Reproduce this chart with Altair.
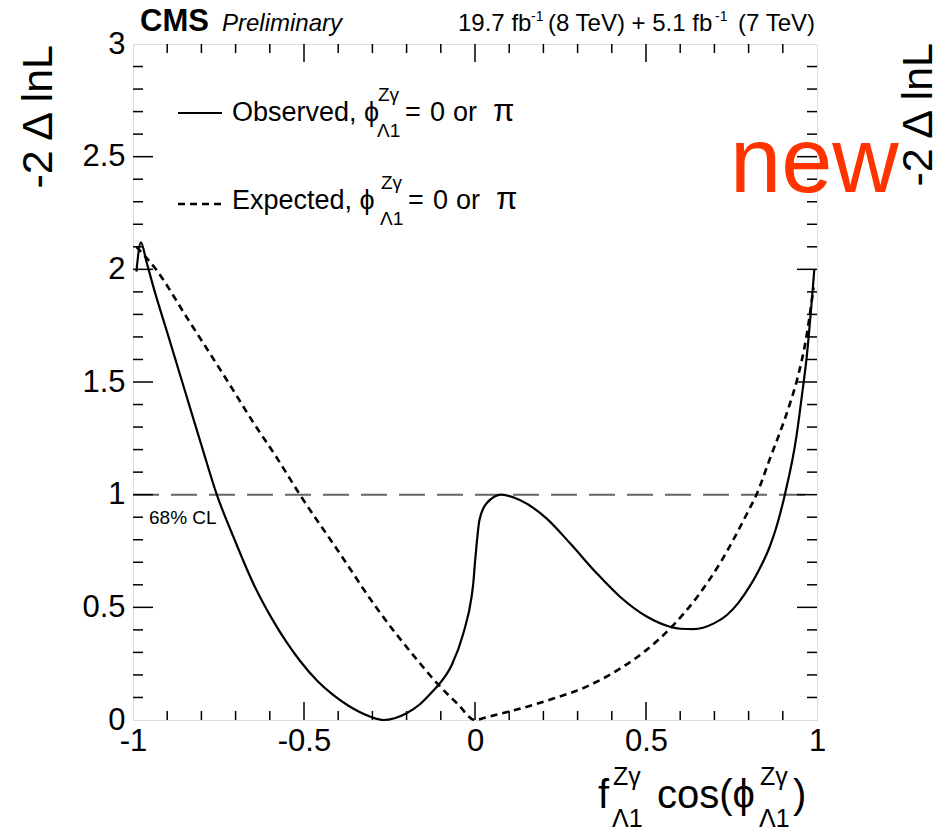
import altair as alt
import pandas as pd

# ---------------- data ----------------
obs_x = [-0.99, -0.977, -0.96, -0.94, -0.90, -0.85, -0.80, -0.755, -0.707, -0.648,
         -0.59, -0.55, -0.512, -0.46, -0.414, -0.37, -0.336, -0.30, -0.268, -0.235,
         -0.2, -0.161, -0.122, -0.107, -0.068, -0.034, -0.01, -0.005, 0.0, 0.005,
         0.013, 0.034, 0.078, 0.131, 0.209, 0.278, 0.356, 0.424, 0.502, 0.570, 0.60,
         0.638, 0.70, 0.736, 0.77, 0.804, 0.83, 0.862, 0.88, 0.906, 0.94, 0.955,
         0.97, 0.992]
obs_y = [1.99, 2.12, 2.03, 1.92, 1.72, 1.47, 1.22, 1.0, 0.815, 0.605,
         0.44, 0.343, 0.263, 0.172, 0.11, 0.063, 0.034, 0.011, 0.0, 0.008,
         0.03, 0.07, 0.13, 0.155, 0.244, 0.385, 0.547, 0.607, 0.70, 0.784,
         0.888, 0.962, 1.0, 0.976, 0.895, 0.784, 0.651, 0.547, 0.459, 0.414, 0.405,
         0.403, 0.43, 0.465, 0.52, 0.595, 0.665, 0.77, 0.85, 1.0, 1.26, 1.43,
         1.613, 1.997]

exp_x = [-0.99, -0.933, -0.84, -0.722, -0.648, -0.58, -0.512, -0.4, -0.289, -0.171,
         -0.112, -0.05, 0.0, 0.034, 0.08, 0.131, 0.229, 0.326, 0.424, 0.5, 0.58,
         0.65, 0.72, 0.8, 0.823, 0.86, 0.92, 0.94, 0.97, 0.99]
exp_y = [2.10, 2.0, 1.78, 1.5, 1.32, 1.165, 1.0, 0.75, 0.5, 0.27,
         0.165, 0.07, 0.0, 0.012, 0.03, 0.05, 0.095, 0.148, 0.228, 0.309, 0.421,
         0.547, 0.705, 0.93, 1.0, 1.15, 1.40, 1.50, 1.71, 1.92]

cl_level = [1.0]

x_major = [-0.5, 0.0, 0.5]
x_minor = [-0.9, -0.8, -0.7, -0.6, -0.4, -0.3, -0.2, -0.1,
           0.1, 0.2, 0.3, 0.4, 0.6, 0.7, 0.8, 0.9]
y_major = [0.5, 1.0, 1.5, 2.0, 2.5]
y_minor = [0.1, 0.2, 0.3, 0.4, 0.6, 0.7, 0.8, 0.9, 1.1, 1.2, 1.3, 1.4,
           1.6, 1.7, 1.8, 1.9, 2.1, 2.2, 2.3, 2.4, 2.6, 2.7, 2.8, 2.9]
x_labels = [-1, -0.5, 0, 0.5, 1]
y_labels = [0, 0.5, 1, 1.5, 2, 2.5, 3]

# ---------------- layout ----------------
L, T = 133, 44
W, H = 684, 676
FONT = "Liberation Sans"
PHI = "\u03d5"

xs = alt.Scale(domain=[-1, 1], nice=False, zero=False)
ys = alt.Scale(domain=[0, 3], nice=False, zero=False)

obs = pd.DataFrame({"x": obs_x, "y": obs_y})
exp = pd.DataFrame({"x": exp_x, "y": exp_y})
one = pd.DataFrame({"a": [0]})

base_axes = alt.Chart(obs).mark_point(opacity=0).encode(
    x=alt.X("x:Q", scale=xs, axis=alt.Axis(
        values=x_labels, labelExpr="'' + datum.value", title=None,
        ticks=False, domain=False, grid=False, labelFontSize=31, labelFont=FONT,
        labelColor="black", labelPadding=6, labelFlush=False, labelOverlap=False)),
    y=alt.Y("y:Q", scale=ys, axis=alt.Axis(
        values=y_labels, labelExpr="'' + datum.value", title=None,
        ticks=False, domain=False, grid=False, labelFontSize=31, labelFont=FONT,
        labelColor="black", labelPadding=8, labelFlush=False, labelOverlap=False)),
)

obs_line = alt.Chart(obs).mark_line(color="black", strokeWidth=2.2, interpolate="monotone").encode(
    x=alt.X("x:Q", scale=xs), y=alt.Y("y:Q", scale=ys))
exp_line = alt.Chart(exp).mark_line(color="black", strokeWidth=2.6, strokeDash=[7, 5],
                                    interpolate="monotone").encode(
    x=alt.X("x:Q", scale=xs), y=alt.Y("y:Q", scale=ys))

cl_rule = alt.Chart(pd.DataFrame({"y": cl_level})).mark_rule(
    color="#666666", strokeWidth=2, strokeDash=[26, 12]).encode(
    y=alt.Y("y:Q", scale=ys), x=alt.value(0), x2=alt.value(W))


def xticks(vals, length):
    d = pd.DataFrame({"v": vals})
    bot = alt.Chart(d).mark_rule(color="black", strokeWidth=1.5).encode(
        x=alt.X("v:Q", scale=xs), y=alt.value(H), y2=alt.value(H - length))
    top = alt.Chart(d).mark_rule(color="black", strokeWidth=1.5).encode(
        x=alt.X("v:Q", scale=xs), y=alt.value(0), y2=alt.value(length))
    return [bot, top]


def yticks(vals, length):
    d = pd.DataFrame({"v": vals})
    lef = alt.Chart(d).mark_rule(color="black", strokeWidth=1.5).encode(
        y=alt.Y("v:Q", scale=ys), x=alt.value(0), x2=alt.value(length))
    rig = alt.Chart(d).mark_rule(color="black", strokeWidth=1.5).encode(
        y=alt.Y("v:Q", scale=ys), x=alt.value(W), x2=alt.value(W - length))
    return [lef, rig]


ticks = xticks(x_major, 18) + xticks(x_minor, 9) + yticks(y_major, 20) + yticks(y_minor, 10)


def txt(text, x, y, size, align="left", **kw):
    return alt.Chart(one).mark_text(
        text=text, fontSize=size, font=kw.pop("font", FONT), align=align,
        baseline="alphabetic", color=kw.pop("color", "black"), **kw).encode(
        x=alt.value(x - L), y=alt.value(y - T))


def seg(x1, x2, y, dash=None, width=2):
    kw = {"strokeDash": dash} if dash else {}
    return alt.Chart(one).mark_rule(color="black", strokeWidth=width, **kw).encode(
        x=alt.value(x1 - L), x2=alt.value(x2 - L), y=alt.value(y - T))


def legend_row(label, x0, phi_x, eq_x, base, line_y, dash=None):
    return [
        seg(178, 222, line_y, dash=dash, width=2.4 if dash else 2),
        txt(label + ", " + PHI, x0, base, 27),
        txt("Z\u03b3", phi_x + 1, base - 20, 19),
        txt("\u039b1", phi_x, base + 16, 19),
        txt("=", eq_x, base, 27),
        txt("0", eq_x + 25, base, 27),
        txt("or", eq_x + 48, base, 27),
        txt("\u03c0", eq_x + 88, base, 31),
    ]


texts = [
    # header
    txt("CMS", 140, 31, 31, fontWeight="bold"),
    txt("Preliminary", 222, 31, 24, fontStyle="italic"),
    txt("19.7 fb", 458, 31, 24),
    txt("-1", 531, 21, 14),
    txt("(8 TeV) + 5.1 fb", 548, 31, 24),
    txt("-1", 715, 21, 14),
    txt("(7 TeV)", 815, 31, 24, align="right"),
    # CL label
    txt("68% CL", 149, 524, 19),
    # axis titles
    txt("-2 \u0394 lnL", 52, 45, 43, align="right", angle=270),
    txt("-2 \u0394 lnL", 932, 43, 43, align="right", angle=270),
    txt("f", 598, 808, 40),
    txt("Z\u03b3", 613, 785, 25),
    txt("\u039b1", 612, 827, 25),
    txt("cos(" + PHI, 657, 808, 40),
    txt("Z\u03b3", 760, 785, 25),
    txt("\u039b1", 759, 827, 25),
    txt(")", 793, 808, 40),
    # stamp
    txt("new", 730, 192, 92, color="#ff3300"),
]
texts += legend_row("Observed", 232, 377, 405, 121, 113)
texts += legend_row("Expected", 232, 380, 408, 209, 204, dash=[7, 5])

chart = alt.layer(base_axes, cl_rule, *ticks, exp_line, obs_line, *texts).properties(
    width=W, height=H,
    autosize=alt.AutoSizeParams(type="none"),
    padding={"left": L, "top": T, "right": 936 - L - W, "bottom": 829 - T - H},
).configure_view(stroke="black", strokeWidth=2).configure(background="white")

chart.save("out.html", embed_options={"renderer": "svg", "actions": False})
